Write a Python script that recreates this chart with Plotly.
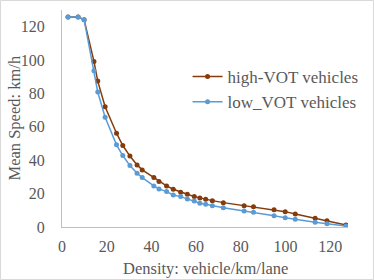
import plotly.graph_objects as go

density = [2.7, 7.2, 9.9, 14.3, 16.0, 19.3, 24.4, 27.2, 30.4, 33.6, 35.9, 41.1, 43.4,
           46.8, 49.8, 53.1, 56.1, 59.2, 61.7, 64.3, 67.3, 72.2, 81.5, 85.7, 94.9,
           99.9, 104.4, 113.3, 118.6, 127.1]
high_vot = [125.8, 125.8, 124.2, 99.2, 87.4, 72.0, 56.2, 48.8, 42.5, 37.2, 34.2, 29.6, 27.2,
            24.6, 22.6, 20.8, 19.6, 18.2, 17.4, 16.6, 15.8, 14.6, 12.8, 12.2, 10.4,
            9.2, 7.8, 5.2, 3.8, 1.2]
low_vot = [125.8, 125.8, 124.2, 93.6, 80.9, 65.7, 49.2, 42.8, 36.8, 32.2, 29.6, 24.6, 22.8,
           21.2, 19.2, 18.2, 16.8, 15.6, 14.2, 13.6, 12.8, 11.6, 9.6, 8.8, 6.8,
           5.6, 4.6, 2.8, 2.0, 0.6]
x_ticks = [0, 20, 40, 60, 80, 100, 120]
y_ticks = [0, 20, 40, 60, 80, 100, 120]

FONT = "Liberation Serif"
GREY = "#595959"
L, R, T, B = 62, 26, 10, 53
PW, PH = 374 - L - R, 280 - T - B

fig = go.Figure()
fig.add_trace(go.Scatter(x=density, y=high_vot, mode="lines+markers", name="high-VOT vehicles",
                         legendgroup="a",
                         line=dict(color="#843C0C", width=1.5),
                         marker=dict(color="#843C0C", size=5)))
fig.add_trace(go.Scatter(x=density, y=low_vot, mode="lines+markers", name="low_VOT vehicles",
                         legendgroup="b",
                         line=dict(color="#5B9BD5", width=1.5),
                         marker=dict(color="#5B9BD5", size=5)))

fig.update_layout(
    width=374, height=280,
    margin=dict(l=L, r=R, t=T, b=B, autoexpand=False),
    paper_bgcolor="white", plot_bgcolor="white",
    font=dict(family=FONT, color=GREY, size=16),
    legend=dict(x=0.439, y=0.774, xanchor="left", yanchor="top", itemwidth=30,
                bgcolor="rgba(0,0,0,0)", font=dict(family=FONT, size=17, color=GREY),
                tracegroupgap=0, traceorder="grouped"),
    shapes=[dict(type="rect", xref="paper", yref="paper",
                 x0=-(L - 0.5) / PW, x1=1 + (R - 0.5) / PW,
                 y0=-(B - 0.5) / PH, y1=1 + (T - 0.5) / PH,
                 line=dict(color="#D9D9D9", width=1), fillcolor="rgba(0,0,0,0)")],
    annotations=[
        dict(text="Density: vehicle/km/lane", xref="paper", yref="paper",
             x=0.5, y=-(268 - 227) / PH, xanchor="center", yanchor="middle",
             showarrow=False, font=dict(family=FONT, size=16.5, color=GREY)),
        dict(text="Mean Speed: km/h", xref="paper", yref="paper",
             x=-(62 - 14) / PW, y=0.5, xanchor="center", yanchor="middle", textangle=-90,
             showarrow=False, font=dict(family=FONT, size=16.5, color=GREY)),
    ],
)
fig.update_xaxes(range=[0, 128], tickvals=x_ticks, showgrid=False, zeroline=False,
                 showline=True, linecolor="#BFBFBF", linewidth=1, ticks="",
                 automargin=False, ticklabelstandoff=5,
                 tickfont=dict(family=FONT, size=16, color=GREY))
fig.update_yaxes(range=[0, 130], tickvals=y_ticks, showgrid=False, zeroline=False,
                 showline=True, linecolor="#BFBFBF", linewidth=1, ticks="",
                 automargin=False, ticklabelstandoff=13,
                 tickfont=dict(family=FONT, size=16, color=GREY))

fig.write_html("out.html", config={"displayModeBar": False},
               post_script="document.body.style.margin='0';document.body.style.overflow='hidden';")
